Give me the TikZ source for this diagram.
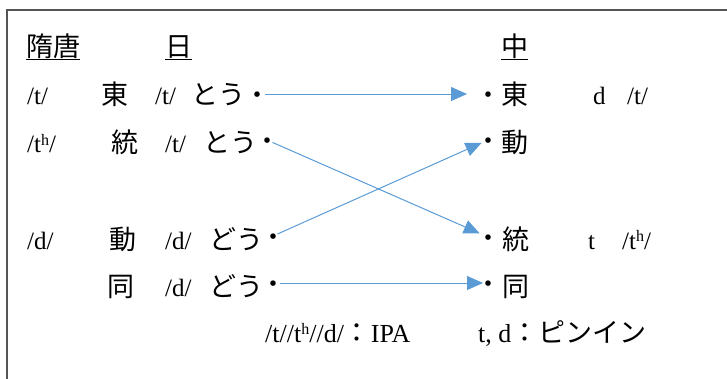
\documentclass[tikz,border=0pt]{standalone}
\usepackage{fontspec}
\setmainfont{Liberation Serif}
\newfontfamily\jp{Noto Sans CJK JP}
\usetikzlibrary{arrows.meta}
\definecolor{linkblue}{RGB}{91,155,213}
\definecolor{framegray}{RGB}{85,85,85}
\newcommand{\lowdot}{\makebox[4pt]{\raisebox{-0.4em}[2pt][2pt]{・}}}
\newcommand{\asp}{\raisebox{0.3em}{\fontsize{16}{16}\selectfont h}}
\begin{document}
\begin{tikzpicture}[x=1pt,y=-1pt,
  lat/.style={font=\fontsize{25}{28}\selectfont, inner sep=0, anchor=base west},
  leg/.style={font=\fontsize{26}{28}\selectfont, inner sep=0, anchor=base west},
  cjk/.style={font=\jp\fontsize{27}{30}\selectfont, inner sep=0, anchor=base west},
  dotn/.style={font=\jp\fontsize{26}{30}\selectfont, inner sep=0, anchor=center},
  link/.style={draw=linkblue, line width=1pt, -{Triangle[length=16pt,width=14pt]}}]
\useasboundingbox (0,0) rectangle (727,378);
\draw[framegray, line width=1.3pt] (7,10) rectangle (790,420);
% headers
\node[cjk] (hsui) at (26,56) {\underline{隋唐}};
\node[cjk] (hja) at (165,56) {\underline{日}};
\node[cjk] (hzh) at (501,56) {\underline{中}};
% row 1
\node[lat] (a1) at (27,104) {/t/};
\node[cjk] (k1) at (101,104) {東};
\node[lat] (b1) at (155,104) {/t/};
\node[cjk] (r1) at (191,104) {とう};
\node[dotn] (dl1) at (257,94) {\lowdot};
\node[dotn] (dr1) at (488,94) {\lowdot};
\node[cjk] (z1) at (501,104) {東};
\node[lat] (p1) at (593,104) {d};
\node[lat] (q1) at (627,104) {/t/};
% row 2
\node[lat] (a2) at (27,152.5) {/t\asp/};
\node[cjk] (k2) at (111,152.5) {統};
\node[lat] (b2) at (165,152.5) {/t/};
\node[cjk] (r2) at (203,152.5) {とう};
\node[dotn] (dl2) at (267,140) {\lowdot};
\node[dotn] (dr2) at (488,140) {\lowdot};
\node[cjk] (z2) at (501,152.5) {動};
% row 3
\node[lat] (a3) at (27,249) {/d/};
\node[cjk] (k3) at (109,249) {動};
\node[lat] (b3) at (165,249) {/d/};
\node[cjk] (r3) at (209,249) {どう};
\node[dotn] (dl3) at (273,236) {\lowdot};
\node[dotn] (dr3) at (488,237) {\lowdot};
\node[cjk] (z3) at (502,249) {統};
\node[lat] (p3) at (588,249) {t};
\node[lat] (q3) at (622,249) {/t\asp/};
% row 4
\node[cjk] (k4) at (107,296) {同};
\node[lat] (b4) at (165,296) {/d/};
\node[cjk] (r4) at (209,296) {どう};
\node[dotn] (dl4) at (273,283) {\lowdot};
\node[dotn] (dr4) at (488,283) {\lowdot};
\node[cjk] (z4) at (502,296) {同};
% legend
\node[leg] (lg1) at (265,342) {/t//t\asp//d/{\jp\fontsize{27}{30}\selectfont ：}IPA};
\node[leg] (lg2) at (478,342) {t, d{\jp\fontsize{27}{30}\selectfont ：ピンイン}};
% connectors
\draw[link, shorten <=8pt, shorten >=21pt] (dl1.center) -- (dr1.center);
\draw[link, shorten <=6pt, shorten >=9pt] (dl2.center) -- (dr3.center);
\draw[link, shorten <=5pt, shorten >=7pt] (dl3.center) -- (dr2.center);
\draw[link, shorten <=7pt, shorten >=5pt] (dl4.center) -- (dr4.center);
\end{tikzpicture}
\end{document}
